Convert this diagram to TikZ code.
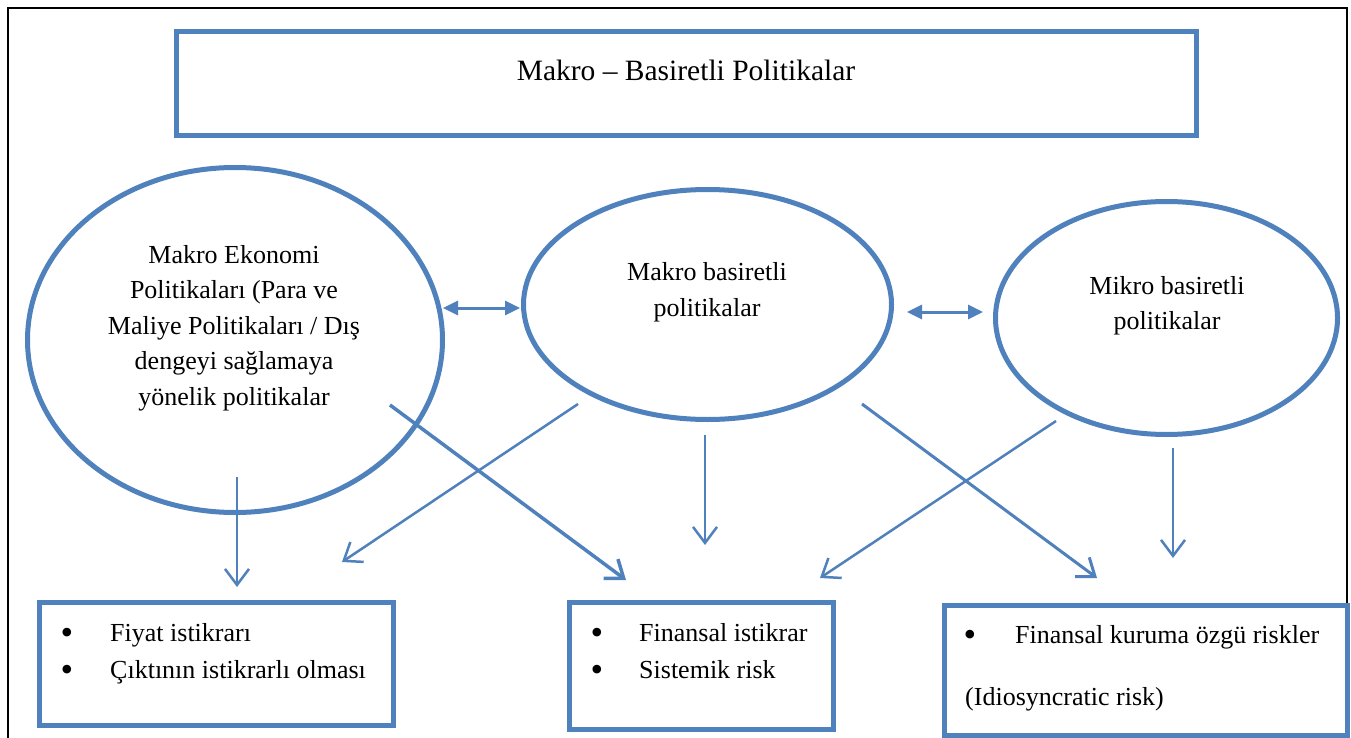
\documentclass[tikz,border=0pt]{standalone}
\usepackage{fontspec}
\setmainfont{Liberation Serif}
\usetikzlibrary{arrows.meta,shapes.geometric}
\definecolor{ofblue}{HTML}{4F81BD}
\begin{document}
\begin{tikzpicture}[x=1pt,y=-1pt,
  bluebox/.style={draw=ofblue,line width=5pt,rectangle,inner sep=0pt},
  oval/.style={draw=ofblue,line width=5pt,ellipse,inner sep=0pt},
  txt/.style={font=\fontsize{26}{35.5}\selectfont,inner sep=0pt,align=center},
  ltxt/.style={font=\fontsize{26}{35.5}\selectfont,inner sep=0pt,anchor=base west},
  bul/.style={font=\fontsize{36}{40}\selectfont,inner sep=0pt,anchor=base},
  openarrow/.style={draw=ofblue,line width=2.5pt,-{Straight Barb[length=16pt,width=24pt]}},
  bothway/.style={draw=ofblue,line width=3pt,{Triangle[length=15pt,width=14pt]}-{Triangle[length=15pt,width=14pt]}}]
\useasboundingbox (0,0) rectangle (1351,738);
\fill[white] (0,0) rectangle (1351,738);
% outer frame
\draw[line width=1.8pt] (8,738) -- (8,8) -- (1347,8) -- (1347,738);
% title box
\node[bluebox,minimum width=1020pt,minimum height=104pt] (top) at (686,83.5) {};
\node[txt,font=\fontsize{29.5}{35}\selectfont] (toptxt) at (686,70) {Makro – Basiretli Politikalar};
% ellipses
\node[oval,minimum width=415pt,minimum height=345pt] (L) at (235,340) {};
\node[txt] (Ltxt) at (234,328) {Makro Ekonomi\\Politikaları (Para ve\\Maliye Politikaları / Dış\\dengeyi sağlamaya\\yönelik politikalar};
\node[oval,minimum width=368pt,minimum height=230pt] (M) at (707.5,304.5) {};
\node[txt] (Mtxt) at (707,292) {Makro basiretli\\politikalar};
\node[oval,minimum width=342pt,minimum height=233pt] (R) at (1166.5,318) {};
\node[txt] (Rtxt) at (1167,305.5) {Mikro basiretli\\politikalar};
% bottom boxes
\node[bluebox,minimum width=354pt,minimum height=123pt] (B1) at (216.5,664) {};
\node[bul] (b11) at (67,644) {•};
\node[ltxt] (t11) at (110,641) {Fiyat istikrarı};
\node[bul] (b12) at (67,681) {•};
\node[ltxt] (t12) at (110,678) {Çıktının istikrarlı olması};
\node[bluebox,minimum width=264pt,minimum height=127pt] (B2) at (701.5,666) {};
\node[bul] (b21) at (597,644) {•};
\node[ltxt] (t21) at (639,641) {Finansal istikrar};
\node[bul] (b22) at (597,681) {•};
\node[ltxt] (t22) at (639,678) {Sistemik risk};
\node[bluebox,minimum width=403pt,minimum height=130pt] (B3) at (1146,670.5) {};
\node[bul] (b31) at (970,646) {•};
\node[ltxt] (t31) at (1015,643) {Finansal kuruma özgü riskler};
\node[ltxt] (t32) at (965,705) {(Idiosyncratic risk)};
% arrow end points
\coordinate (a1s) at (237,477); \coordinate (a1e) at (237,587);
\coordinate (a2s) at (390,405); \coordinate (a2e) at (626,580);
\coordinate (a3s) at (578,404); \coordinate (a3e) at (342,562);
\coordinate (a4s) at (705,435); \coordinate (a4e) at (705,545);
\coordinate (a5s) at (862,404); \coordinate (a5e) at (1097,578);
\coordinate (a6s) at (1056,421); \coordinate (a6e) at (820,578);
\coordinate (a7s) at (1173,448); \coordinate (a7e) at (1173,558);
\coordinate (d1s) at (443,308); \coordinate (d1e) at (520,308);
\coordinate (d2s) at (907,312); \coordinate (d2e) at (983,312);
% arrows
\draw[openarrow] (a1s) -- (a1e);
\draw[openarrow,line width=3.5pt] (a2s) -- (a2e);
\draw[openarrow] (a3s) -- (a3e);
\draw[openarrow] (a4s) -- (a4e);
\draw[openarrow,line width=3pt] (a5s) -- (a5e);
\draw[openarrow] (a6s) -- (a6e);
\draw[openarrow] (a7s) -- (a7e);
\draw[bothway] (d1s) -- (d1e);
\draw[bothway] (d2s) -- (d2e);
\end{tikzpicture}
\end{document}
